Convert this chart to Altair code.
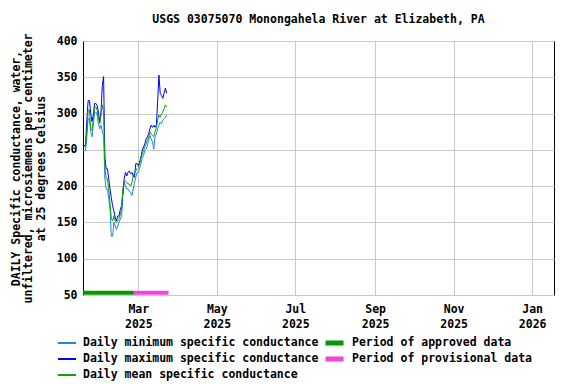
import altair as alt
import pandas as pd

# ---- data ----
start_date = "2025-01-18"
series_names = ["Daily minimum specific conductance",
                "Daily maximum specific conductance",
                "Daily mean specific conductance"]
series_colors = ["#1f8ad2", "#0000ff", "#10a010"]

daily_max = [255, 258, 291, 318, 318, 300, 289, 298, 314, 314,
             311, 302, 288, 302, 339, 351, 240, 224, 224, 210,
             196, 184, 173, 166, 157, 152, 159, 159, 168, 173,
             191, 210, 219, 214, 219, 221, 217, 219, 214, 212,
             231, 231, 228, 233, 240, 249, 254, 258, 265, 268,
             272, 279, 284, 281, 284, 281, 284, 316, 353, 328,
             325, 321, 328, 335, 328]
daily_min = [249, 249, 270, 293, 293, 275, 268, 284, 302, 302,
             298, 286, 279, 284, 275, 270, 210, 196, 196, 182,
             168, 131, 131, 150, 145, 140, 145, 150, 154, 159,
             187, 205, 200, 196, 196, 193, 191, 187, 196, 205,
             212, 219, 219, 224, 231, 238, 242, 249, 251, 256,
             263, 270, 265, 261, 251, 268, 272, 279, 284, 288,
             286, 291, 293, 295, 298]
daily_mean = [254, 254, 275, 305, 305, 279, 277, 291, 309, 309,
              305, 293, 286, 298, 312, 302, 226, 210, 210, 196,
              177, 156, 152, 159, 152, 150, 152, 155, 161, 168,
              196, 207, 207, 205, 203, 203, 200, 205, 214, 219,
              221, 224, 226, 231, 238, 244, 249, 254, 258, 263,
              268, 275, 272, 270, 268, 275, 281, 291, 298, 295,
              300, 302, 307, 312, 309]

period_names = ["Period of approved data", "Period of provisional data"]
period_start = ["2025-01-17", "2025-02-25T12:00:00"]
period_end = ["2025-02-25T12:00:00", "2025-03-24T12:00:00"]
period_colors = ["#009a00", "#f044dc"]

x_domain = ["2025-01-17", "2026-01-18"]
x_ticks = [(2025, 3), (2025, 5), (2025, 7), (2025, 9), (2025, 11), (2026, 1)]
y_ticks = [50, 100, 150, 200, 250, 300, 350, 400]

title_text = "USGS 03075070 Monongahela River at Elizabeth, PA"
y_title = ["DAILY Specific conductance, water,",
           "unfiltered, microsiemens per centimeter",
           "at 25 degrees Celsius"]

FONT = "DejaVu Sans Mono"
FS = 11.5

# ---- build tables ----
dates = pd.date_range(start_date, periods=len(daily_max), freq="D").strftime("%Y-%m-%d")
rows = []
for name, vals in zip(series_names, [daily_min, daily_max, daily_mean]):
    for d, v in zip(dates, vals):
        rows.append({"date": d, "value": v, "series": name})
df = pd.DataFrame(rows)

periods = pd.DataFrame({"period": period_names, "start": period_start, "end": period_end})

x_scale = alt.Scale(type="utc", domain=x_domain)
x_axis = alt.Axis(
    values=[alt.DateTime(year=y, month=m, date=1, utc=True) for y, m in x_ticks],
    labelExpr="[utcFormat(datum.value, '%b'), utcFormat(datum.value, '%Y')]",
    title=None, grid=True, ticks=False, domain=False, labelPadding=8,
    labelLineHeight=15, labelFlush=False, labelOverlap=False,
)
y_scale = alt.Scale(domain=[50, 400], nice=False, zero=False)
y_axis = alt.Axis(values=y_ticks, title=y_title, grid=True, ticks=False,
                  domain=False, labelPadding=6, titlePadding=10,
                  titleLineHeight=12.5, labelOverlap=False, labelFlush=False)

legend_common = dict(orient="none", legendY=294, direction="vertical", title=None,
                     symbolType="stroke", symbolSize=324, labelOffset=6,
                     rowPadding=0, clipHeight=16)

lines = alt.Chart(df).mark_line(strokeWidth=1).encode(
    x=alt.X("date:T", scale=x_scale, axis=x_axis),
    y=alt.Y("value:Q", scale=y_scale, axis=y_axis),
    color=alt.Color("series:N",
                    scale=alt.Scale(domain=series_names, range=series_colors),
                    sort=series_names,
                    legend=alt.Legend(legendX=-26, symbolStrokeWidth=2,
                                      **legend_common)),
    detail="series:N",
)

bars = alt.Chart(periods).mark_rule(strokeWidth=4, strokeCap="butt").encode(
    x=alt.X("start:T", scale=x_scale, axis=x_axis),
    x2="end:T",
    y=alt.YDatum(53, scale=y_scale, axis=y_axis, type="quantitative"),
    color=alt.Color("period:N",
                    scale=alt.Scale(domain=period_names, range=period_colors),
                    sort=period_names,
                    legend=alt.Legend(legendX=240, symbolStrokeWidth=5,
                                      **legend_common)),
)

chart = alt.layer(lines, bars).resolve_scale(color="independent").properties(
    width=471, height=254,
    autosize="none",
    padding={"left": 75, "top": 33, "right": 14, "bottom": 88},
    title=alt.TitleParams(title_text, font=FONT, fontSize=FS, fontWeight="bold",
                          color="black", anchor="middle", offset=7),
).configure_view(stroke="black", strokeWidth=1).configure_axis(
    labelFont=FONT, labelFontSize=FS, labelFontWeight="bold", labelColor="black",
    titleFont=FONT, titleFontSize=FS, titleFontWeight="bold", titleColor="black",
    gridColor="#c8c8c8", gridWidth=1,
).configure_legend(
    labelFont=FONT, labelFontSize=FS, labelFontWeight="bold", labelColor="black",
    labelLimit=400,
)

chart.save("out.html", embed_options={"renderer": "svg", "actions": False})
